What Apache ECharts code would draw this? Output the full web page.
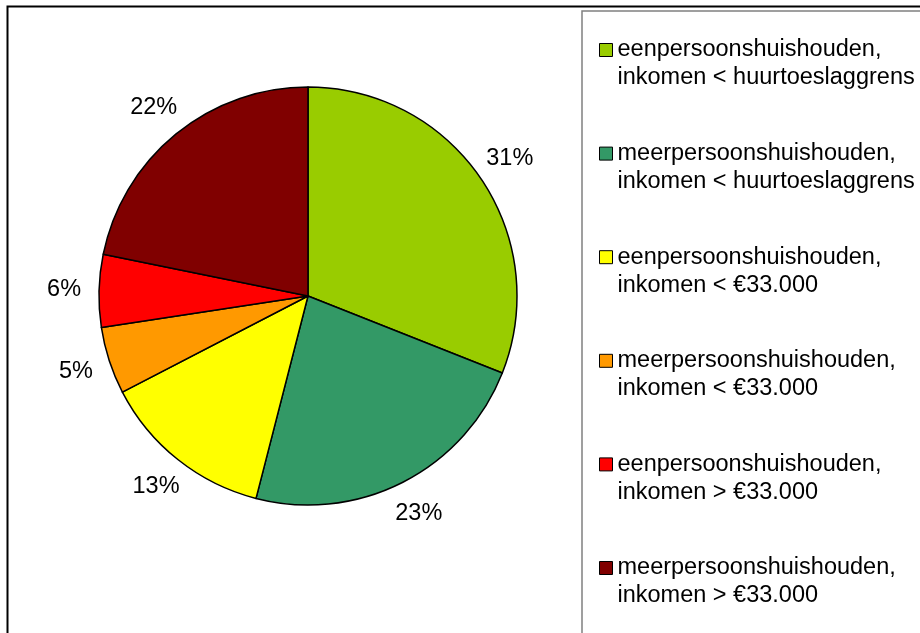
<!DOCTYPE html>
<html lang="nl">
<head>
    <meta charset="UTF-8">
    <title>Huishoudens</title>
    <script src="https://cdn.jsdelivr.net/npm/echarts@6/dist/echarts.min.js"></script>
    <style>
        html, body { margin: 0; padding: 0; background: #fff; }
        #main { width: 920px; height: 633px; }
    </style>
</head>
<body>
<div id="main"></div>
<script type="text/javascript">
    var categories = [
        'eenpersoonshuishouden,\ninkomen < huurtoeslaggrens',
        'meerpersoonshuishouden,\ninkomen < huurtoeslaggrens',
        'eenpersoonshuishouden,\ninkomen < €33.000',
        'meerpersoonshuishouden,\ninkomen < €33.000',
        'eenpersoonshuishouden,\ninkomen > €33.000',
        'meerpersoonshuishouden,\ninkomen > €33.000'
    ];
    var values = [31.0, 23.0, 13.4, 5.2, 5.6, 21.8];
    var colors = ['#99CC00', '#339966', '#FFFF00', '#FF9900', '#FF0000', '#800000'];

    var font = "'Liberation Sans', Arial, sans-serif";

    var pieData = categories.map(function (name, i) {
        return { name: name, value: values[i], itemStyle: { color: colors[i] } };
    });

    var myChart = echarts.init(document.getElementById('main'));
    myChart.setOption({
        animation: false,
        color: colors,
        graphic: [
            { type: 'rect', shape: { x: 7.5, y: 6.5, width: 1000, height: 1000 },
              style: { fill: 'none', stroke: '#000', lineWidth: 2 } },
            { type: 'rect', shape: { x: 582, y: 11, width: 500, height: 1000 },
              style: { fill: 'none', stroke: '#808080', lineWidth: 1.5 } }
        ],
        legend: {
            orient: 'vertical',
            left: 599,
            top: 8,
            padding: 0,
            itemWidth: 13,
            itemHeight: 13,
            itemGap: 19.6,
            icon: 'rect',
            selectedMode: false,
            itemStyle: { borderColor: '#000', borderWidth: 1 },
            // lege eerste regel zodat het blokje bij de eerste tekstregel staat
            formatter: function (name) { return '\n' + name; },
            textStyle: {
                fontFamily: font,
                fontSize: 23.5,
                color: '#000',
                lineHeight: 28
            },
            data: categories
        },
        series: [
            {
                type: 'pie',
                center: [308, 296],
                radius: 209,
                startAngle: 90,
                clockwise: true,
                silent: true,
                itemStyle: { borderColor: '#000', borderWidth: 1.5 },
                label: { show: false },
                labelLine: { show: false },
                data: pieData
            },
            {
                // alleen voor de percentages buiten de taart
                type: 'pie',
                center: [308, 296],
                radius: [228, 254],
                startAngle: 90,
                clockwise: true,
                silent: true,
                itemStyle: { color: 'rgba(0,0,0,0)' },
                label: {
                    show: true,
                    position: 'inside',
                    formatter: function (p) { return Math.round(p.value) + '%'; },
                    fontFamily: font,
                    fontSize: 23.5,
                    color: '#000'
                },
                labelLine: { show: false },
                data: pieData.map(function (d) {
                    return { name: d.name, value: d.value, itemStyle: { color: 'rgba(0,0,0,0)' } };
                })
            }
        ]
    });
</script>
</body>
</html>
